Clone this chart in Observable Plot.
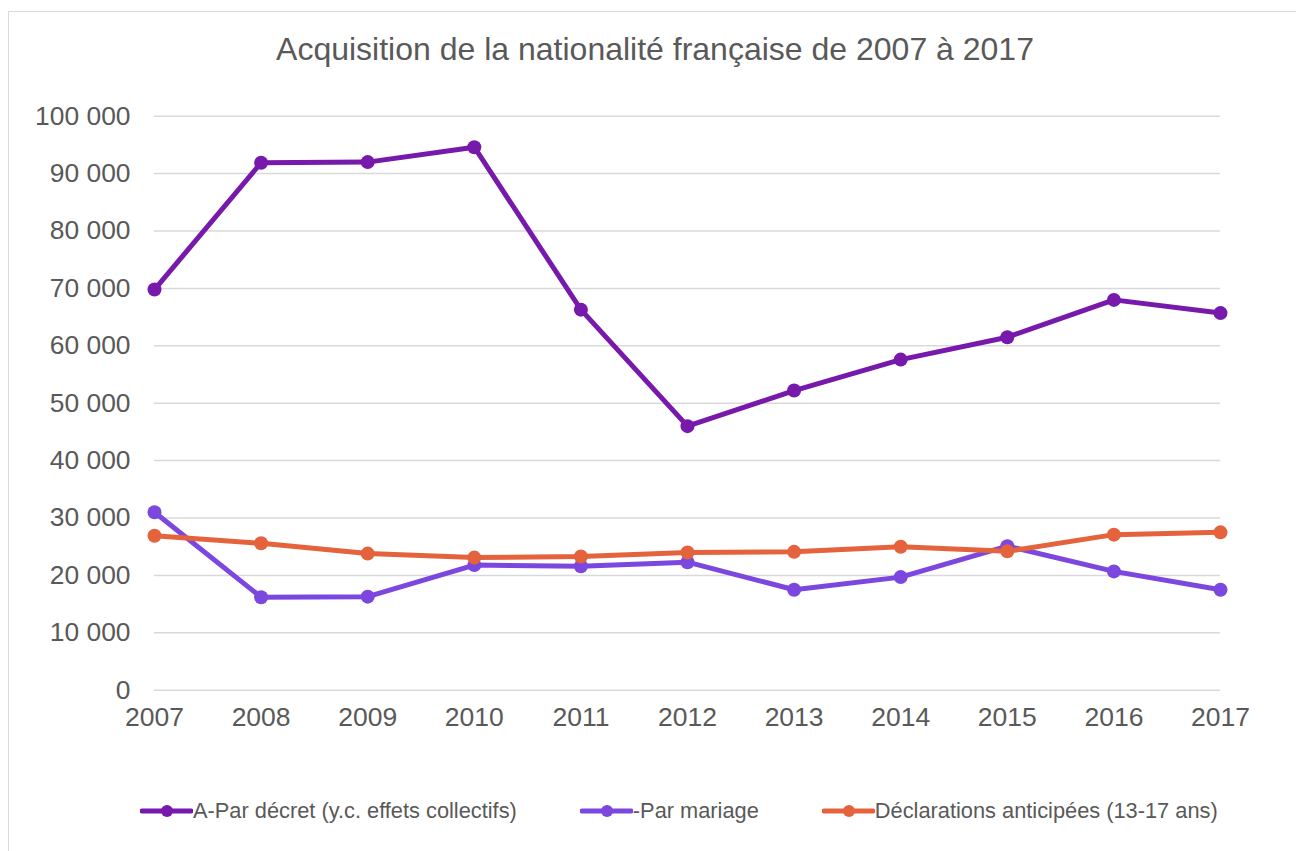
<!DOCTYPE html>
<html>
<head>
<meta charset="utf-8">
<script src="https://cdn.jsdelivr.net/npm/d3@7"></script>
<script src="https://cdn.jsdelivr.net/npm/@observablehq/plot@0.6"></script>
<style>
  html, body { margin: 0; padding: 0; background: #fff; }
  body { width: 1296px; height: 851px; position: relative; overflow: hidden; font-family: "Liberation Sans", Arial, sans-serif; color: #595959; }
  #frame { position: absolute; left: 8px; top: 11px; width: 1320px; height: 900px; border: 1px solid #d9d9d9; box-sizing: border-box; }
  #title { position: absolute; left: 0; top: 31px; width: 1310px; text-align: center; font-size: 32px; color: #595959; }
  #chart { position: absolute; left: 0; top: 0; }
  #legend { position: absolute; left: 140px; top: 798px; display: flex; gap: 63px; font-size: 21.8px; color: #595959; white-space: nowrap; }
  .item { display: flex; align-items: center; }
  .item svg { display: block; }
</style>
</head>
<body>
<div id="frame"></div>
<div id="chart"></div>
<div id="title">Acquisition de la nationalité française de 2007 à 2017</div>
<div id="legend"></div>
<script>
const years = [2007, 2008, 2009, 2010, 2011, 2012, 2013, 2014, 2015, 2016, 2017];
const decret = [69800, 91900, 92000, 94600, 66300, 46000, 52200, 57600, 61500, 68000, 65700];
const mariage = [31000, 16200, 16300, 21800, 21600, 22300, 17500, 19700, 25100, 20700, 17500];
const declarations = [26900, 25600, 23800, 23100, 23300, 24000, 24100, 25000, 24200, 27100, 27500];
const seriesNames = ["A-Par décret (y.c. effets collectifs)", "-Par mariage", "Déclarations anticipées (13-17 ans)"];
const seriesColors = ["#7719aa", "#7c47df", "#e5633c"];
const yTicks = [0, 10000, 20000, 30000, 40000, 50000, 60000, 70000, 80000, 90000, 100000];

const seriesValues = [decret, mariage, declarations];
const data = [];
seriesValues.forEach((vals, s) => vals.forEach((v, i) => data.push({year: years[i], value: v, series: seriesNames[s]})));

const fmt = d => d3.format(",")(d).replace(/,/g, " ");

const marks = [
  Plot.gridY(yTicks, {stroke: "#d9d9d9", strokeOpacity: 1, strokeWidth: 1.5}),
  Plot.axisY(yTicks, {tickSize: 0, tickPadding: 24, tickFormat: fmt, fontSize: 26.4, fill: "#595959", label: null}),
  Plot.axisX(years, {tickSize: 0, tickPadding: 17, tickFormat: d => String(d), fontSize: 26.5, fill: "#595959", label: null})
];
seriesNames.forEach((name, s) => {
  const d = data.filter(r => r.series === name);
  marks.push(Plot.line(d, {x: "year", y: "value", stroke: seriesColors[s], strokeWidth: 5}));
  marks.push(Plot.dot(d, {x: "year", y: "value", fill: seriesColors[s], r: 7}));
});

const chart = Plot.plot({
  width: 1296,
  height: 760,
  marginLeft: 154,
  marginRight: 76,
  marginTop: 115.7,
  marginBottom: 70.3,
  style: {fontFamily: "'Liberation Sans', Arial, sans-serif", background: "transparent", overflow: "visible"},
  x: {type: "linear", domain: [2007, 2017], label: null},
  y: {domain: [0, 100000], label: null},
  marks
});
document.getElementById("chart").appendChild(chart);

const legend = document.getElementById("legend");
seriesNames.forEach((name, s) => {
  const item = document.createElement("div");
  item.className = "item";
  item.innerHTML = `<svg width="53" height="20"><line x1="2" y1="10" x2="51" y2="10" stroke="${seriesColors[s]}" stroke-width="5" stroke-linecap="round"/><circle cx="27" cy="10" r="6" fill="${seriesColors[s]}"/></svg><span>${name}</span>`;
  legend.appendChild(item);
});
</script>
</body>
</html>
